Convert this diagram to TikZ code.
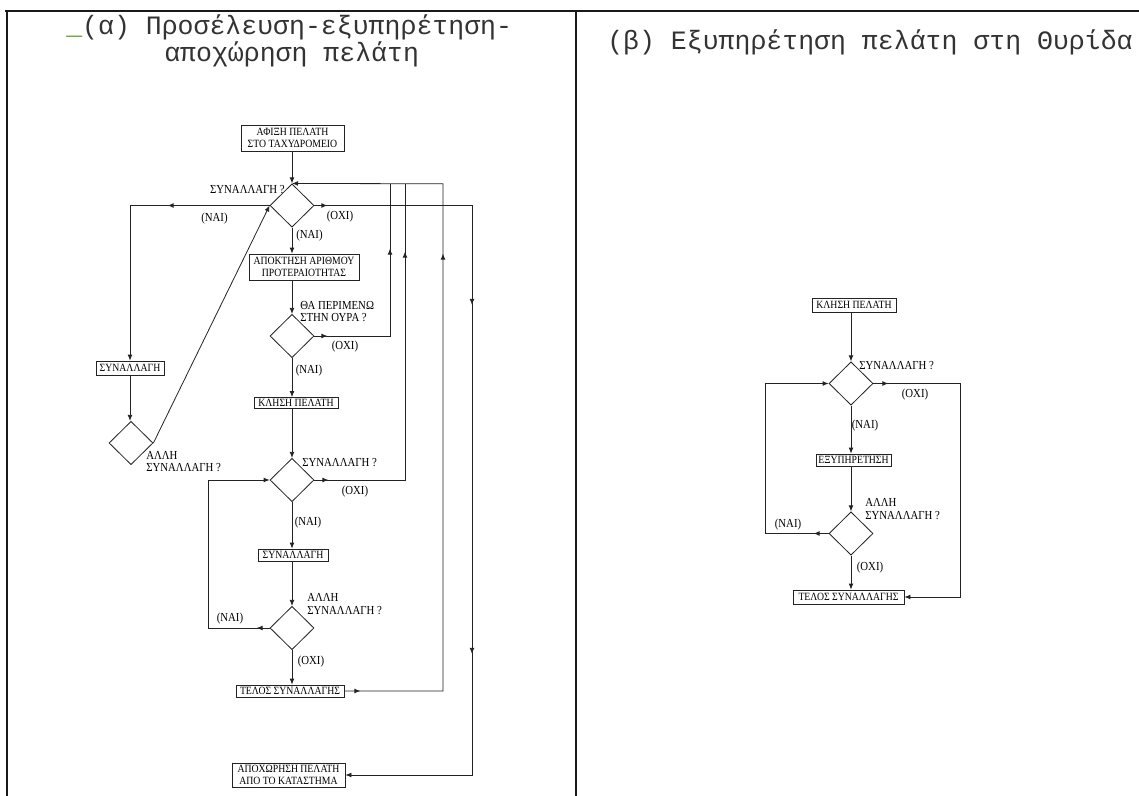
\documentclass[tikz,border=0pt]{standalone}
\usepackage{fontspec}
\setmainfont{Liberation Serif}
\newfontfamily\fcfont[FakeStretch=0.88]{Liberation Serif}
\newfontfamily\ttlfont{Liberation Mono}
\usetikzlibrary{shapes.geometric,arrows.meta,decorations.markings}
\definecolor{ulgreen}{RGB}{90,160,40}
\definecolor{ln}{RGB}{35,35,35}
\tikzset{
 box/.style={draw=ln, line width=0.6pt, rectangle, inner sep=0.8pt, font=\fcfont\fontsize{8.3}{9.3}\selectfont, align=center, text=black},
 dia/.style={draw=ln, line width=0.6pt, diamond, aspect=1, inner sep=0pt, minimum width=33pt, minimum height=32.5pt},
 lbl/.style={font=\fcfont\fontsize{9.2}{9.4}\selectfont, inner sep=0pt, align=left, text=black},
 conn/.style={draw=ln, line width=0.6pt},
 endarrow/.style={-{Latex[length=4.5pt,width=3.6pt]}},
 ma/.style={postaction={decorate, decoration={markings, mark=at position #1 with {\arrow{Latex[length=4.5pt,width=3.6pt]}}}}},
 ttl/.style={font=\ttlfont\fontsize{19.9}{24}\selectfont, inner sep=0pt, anchor=base west, text=black!80},
 tableline/.style={line width=1.6pt, draw=black!90}
}
\begin{document}
\begin{tikzpicture}[x=0.75pt,y=-0.75pt]
\fill[white] (0,0) rectangle (1139,796);
\useasboundingbox (0,0) rectangle (1139,796);

% table frame
\draw[tableline] (5,11) -- (1139,11);
\draw[tableline] (7,11) -- (7,796);
\draw[tableline] (576,11) -- (576,796);

% titles
\node[ttl] (t1) at (66,34) {{\color{ulgreen}\_}(α) Προσέλευση-εξυπηρέτηση-};
\node[ttl] (t2) at (164,61) {αποχώρηση πελάτη};
\node[ttl] (t3) at (607,49) {(β) Εξυπηρέτηση πελάτη στη Θυρίδα};

% ---------- left flowchart ----------
\node[box, minimum width=77.25pt, minimum height=19.5pt] (A) at (292.5,138) {ΑΦΙΞΗ ΠΕΛΑΤΗ\\ΣΤΟ ΤΑΧΥΔΡΟΜΕΙΟ};
\node[dia] (D1) at (292,205.5) {};
\node[box, minimum width=82.5pt, minimum height=19.5pt] (B) at (304,267) {ΑΠΟΚΤΗΣΗ ΑΡΙΘΜΟΥ\\ΠΡΟΤΕΡΑΙΟΤΗΤΑΣ};
\node[dia] (D2) at (292,336) {};
\node[box, minimum width=63pt, minimum height=8.25pt] (C) at (296,403) {ΚΛΗΣΗ ΠΕΛΑΤΗ};
\node[box, minimum width=51pt, minimum height=10.5pt] (S1) at (130,368) {ΣΥΝΑΛΛΑΓΗ};
\node[dia] (D3) at (131,443) {};
\node[dia] (D4) at (292,480) {};
\node[box, minimum width=52.5pt, minimum height=9pt] (E) at (293,555) {ΣΥΝΑΛΛΑΓΗ};
\node[dia] (D5) at (292,628) {};
\node[box, minimum width=81pt, minimum height=9pt] (F) at (290,691) {ΤΕΛΟΣ ΣΥΝΑΛΛΑΓΗΣ};
\node[box, minimum width=84.75pt, minimum height=18pt] (G) at (288.5,775) {ΑΠΟΧΩΡΗΣΗ ΠΕΛΑΤΗ\\ΑΠΟ ΤΟ ΚΑΤΑΣΤΗΜΑ};

\coordinate (v1) at (390,183.8);
\coordinate (v2) at (405,183.8);
\coordinate (v3) at (443,183.8);
\coordinate (xr) at (472,775);
\coordinate (xl) at (208,480);

\draw[conn,endarrow] (D1.north |- A.south) -- (D1.north);
\draw[conn,endarrow,ma=76.5pt] (D1.west) -- (D1.west -| S1.north) -- (S1.north);
\draw[conn,endarrow] (D1.south) -- (D1.south |- B.north);
\draw[conn,endarrow] (D2.north |- B.south) -- (D2.north);
\draw[conn,endarrow,ma=9.75pt,ma=192.75pt,ma=454.5pt] (D1.east) -- (D1.east -| xr) -- (xr) -- (G.east);
\draw[conn,ma=9.75pt,ma=122.25pt] (D2.east) -- (D2.east -| v1) -- (v1);
\draw[conn,endarrow] (D2.south) -- (D2.south |- C.north);
\draw[conn,endarrow] (S1.south) -- (S1.south |- D3.north);
\draw[conn,endarrow] (D3.east) -- (D1.west);
\draw[conn,endarrow] (D4.north |- C.south) -- (D4.north);
\draw[conn,ma=10.5pt,ma=239.25pt] (D4.east) -- (D4.east -| v2) -- (v2);
\draw[conn,endarrow] (D4.south) -- (D4.south |- E.north);
\draw[conn,endarrow] (D5.north |- E.south) -- (D5.north);
\draw[conn,endarrow,ma=9.75pt] (D5.west) -- (D5.west -| xl) -- (xl) -- (D4.west);
\draw[conn,endarrow] (D5.south) -- (D5.south |- F.north);
\draw[conn,endarrow,ma=12pt,ma=402pt] (F.east) -- (F.east -| v3) -- (v3) -- (D1.north);

\node[lbl, anchor=east] (l1) at (285,190) {ΣΥΝΑΛΛΑΓΗ ?};
\node[lbl] (l2) at (214.5,219) {(ΝΑΙ)};
\node[lbl] (l3) at (340,217) {(ΟΧΙ)};
\node[lbl] (l4) at (309.5,236) {(ΝΑΙ)};
\node[lbl, anchor=west] (l5) at (300,311.5) {ΘΑ ΠΕΡΙΜΕΝΩ\\ΣΤΗΝ ΟΥΡΑ ?};
\node[lbl] (l6) at (345,347) {(ΟΧΙ)};
\node[lbl] (l7) at (309,371) {(ΝΑΙ)};
\node[lbl, anchor=west] (l8) at (146,461.5) {ΑΛΛΗ\\ΣΥΝΑΛΛΑΓΗ ?};
\node[lbl, anchor=west] (l9) at (302,463) {ΣΥΝΑΛΛΑΓΗ ?};
\node[lbl] (l10) at (355,492) {(ΟΧΙ)};
\node[lbl] (l11) at (308,523) {(ΝΑΙ)};
\node[lbl, anchor=west] (l12) at (307,604) {ΑΛΛΗ\\ΣΥΝΑΛΛΑΓΗ ?};
\node[lbl] (l13) at (230,619) {(ΝΑΙ)};
\node[lbl] (l14) at (311,662) {(ΟΧΙ)};

% ---------- right flowchart ----------
\node[box, minimum width=63pt, minimum height=10.5pt] (H) at (854,305) {ΚΛΗΣΗ ΠΕΛΑΤΗ};
\node[dia] (R1) at (851,383.5) {};
\node[box, minimum width=56.25pt, minimum height=9pt] (I) at (853.5,460) {ΕΞΥΠΗΡΕΤΗΣΗ};
\node[dia] (R2) at (851,533.5) {};
\node[box, minimum width=83.25pt, minimum height=10.5pt] (J) at (848.5,597) {ΤΕΛΟΣ ΣΥΝΑΛΛΑΓΗΣ};
\coordinate (rr) at (960,597);
\coordinate (rl) at (765,383.5);

\draw[conn,endarrow] (R1.north |- H.south) -- (R1.north);
\draw[conn,endarrow,ma=11.25pt] (R1.east) -- (R1.east -| rr) -- (rr) -- (J.east);
\draw[conn,endarrow] (R1.south) -- (R1.south |- I.north);
\draw[conn,endarrow] (R2.north |- I.south) -- (R2.north);
\draw[conn,endarrow] (R2.south) -- (R2.south |- J.north);
\draw[conn,endarrow,ma=11.25pt] (R2.west) -- (R2.west -| rl) -- (rl) -- (R1.west);

\node[lbl, anchor=west] (r1) at (859,366) {ΣΥΝΑΛΛΑΓΗ ?};
\node[lbl] (r2) at (915,395) {(ΟΧΙ)};
\node[lbl] (r3) at (865,426) {(ΝΑΙ)};
\node[lbl, anchor=west] (r4) at (865,509) {ΑΛΛΗ\\ΣΥΝΑΛΛΑΓΗ ?};
\node[lbl] (r5) at (788,525) {(ΝΑΙ)};
\node[lbl] (r6) at (870,568) {(ΟΧΙ)};
\end{tikzpicture}
\end{document}
